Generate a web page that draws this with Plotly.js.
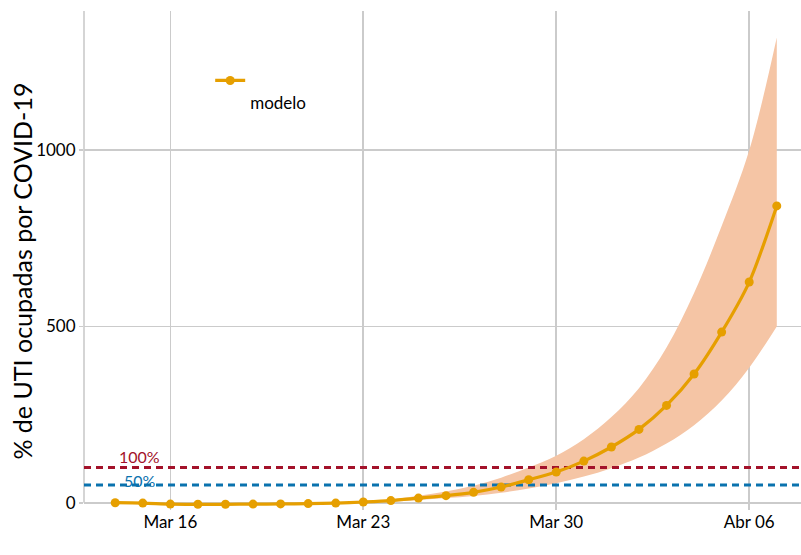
<!DOCTYPE html>
<html>
<head>
<meta charset="utf-8">
<script src="https://cdn.plot.ly/plotly-3.0.1.min.js"></script>
<style>html,body{margin:0;padding:0;background:#fff;}#chart{width:801px;height:555px;}</style>
</head>
<body>
<div id="chart"></div>
<script>
// ---- data ----
const dates = ['2020-03-14','2020-03-15','2020-03-16','2020-03-17','2020-03-18','2020-03-19','2020-03-20',
  '2020-03-21','2020-03-22','2020-03-23','2020-03-24','2020-03-25','2020-03-26','2020-03-27','2020-03-28',
  '2020-03-29','2020-03-30','2020-03-31','2020-04-01','2020-04-02','2020-04-03','2020-04-04','2020-04-05',
  '2020-04-06','2020-04-07'];
const modelo = [0, -1, -4, -4.5, -4.5, -4, -3.5, -2.5, -1, 2, 6, 13, 20, 29.5, 44.5, 65, 87, 118, 158, 208, 276, 365, 484, 626, 842];
const lower  = [0, -1, -4, -4.5, -4.5, -4, -3.5, -2.5, -1.5, 1, 3, 8, 13, 19, 28, 40, 55, 74, 98, 128, 168, 220, 290, 383, 500];
const upper  = [0, -1, -4, -4.5, -4.5, -4, -3, -2, 0, 4, 10, 20, 32, 48, 71, 100, 133, 180, 243, 325, 440, 595, 785, 1000, 1320];
const thresholdValues = [100, 50];
const thresholdLabels = ['100%', '50%'];
const thresholdColors = ['#A3122A', '#0A72AE'];
const tickDates = ['2020-03-16', '2020-03-23', '2020-03-30', '2020-04-06'];
const tickLabels = ['Mar 16', 'Mar 23', 'Mar 30', 'Abr 06'];
const yTicks = [0, 500, 1000];
const xRange = ['2020-03-12 20:50', '2020-04-07 21:05'];
const yRange = [-20.7, 1395];

const FONT = 'Lato, "DejaVu Sans", sans-serif';
const GRID = '#CBCBCB';

const traces = [];
traces.push({x: dates, y: lower, type: 'scatter', mode: 'lines', line: {width: 0, color: '#F4C4A4', shape: 'spline', smoothing: 1},
  showlegend: false, hoverinfo: 'skip'});
traces.push({x: dates, y: upper, type: 'scatter', mode: 'lines', line: {width: 0, color: '#F4C4A4', shape: 'spline', smoothing: 1},
  fill: 'tonexty', fillcolor: '#F5C5A5', showlegend: false, hoverinfo: 'skip'});
thresholdValues.forEach((v, i) => {
  traces.push({x: xRange, y: [v, v], type: 'scatter', mode: 'lines',
    line: {color: thresholdColors[i], width: 3, dash: '7px,5px'}, showlegend: false, hoverinfo: 'skip'});
});
traces.push({x: dates, y: modelo, type: 'scatter', mode: 'lines+markers', name: ' <br>modelo',
  line: {color: '#E69F00', width: 3.2, shape: 'spline', smoothing: 0.8}, marker: {color: '#E69F00', size: 9}, cliponaxis: false});

const annotations = thresholdValues.map((v, i) => ({
  x: '2020-03-14 21:30', y: v, xref: 'x', yref: 'y', text: thresholdLabels[i], showarrow: false,
  xanchor: 'center', yanchor: 'middle', yshift: i === 0 ? 10.5 : 5,
  font: {family: FONT, size: 16, color: thresholdColors[i]}
}));
annotations.push({
  x: -0.087, y: 0.479, xref: 'paper', yref: 'paper', text: '% de UTI ocupadas por COVID-19',
  textangle: -90, showarrow: false, xanchor: 'center', yanchor: 'middle',
  font: {family: FONT, size: 25, color: '#000'}
});

const layout = {
  width: 801, height: 555,
  margin: {l: 84, r: 0, t: 11, b: 45, pad: 0},
  paper_bgcolor: '#fff', plot_bgcolor: '#fff',
  font: {family: FONT, size: 17, color: '#000'},
  showlegend: true,
  legend: {x: 0.176, y: 0.896, xanchor: 'left', yanchor: 'top', valign: 'top',
    bgcolor: 'rgba(0,0,0,0)', font: {family: FONT, size: 17, color: '#000'}},
  xaxis: {type: 'date', range: xRange, tickvals: tickDates, ticktext: tickLabels,
    showgrid: true, gridcolor: GRID, gridwidth: 1.6, zeroline: false, showline: false,
    ticks: '', tickfont: {family: FONT, size: 17, color: '#000'}},
  yaxis: {range: yRange, tickvals: yTicks, ticktext: yTicks.map(String),
    showgrid: true, gridcolor: GRID, gridwidth: 1.6, zeroline: false, showline: false,
    ticks: 'outside', ticklen: 4, tickcolor: GRID, tickwidth: 1.6,
    tickfont: {family: FONT, size: 17, color: '#000'}},
  shapes: [{type: 'line', xref: 'paper', yref: 'y', x0: 0, x1: 0, y0: 0, y1: yRange[1],
    line: {color: GRID, width: 1.6}, layer: 'below'}],
  annotations: annotations
};

Plotly.newPlot('chart', traces, layout, {displayModeBar: false, staticPlot: true});
</script>
</body>
</html>
